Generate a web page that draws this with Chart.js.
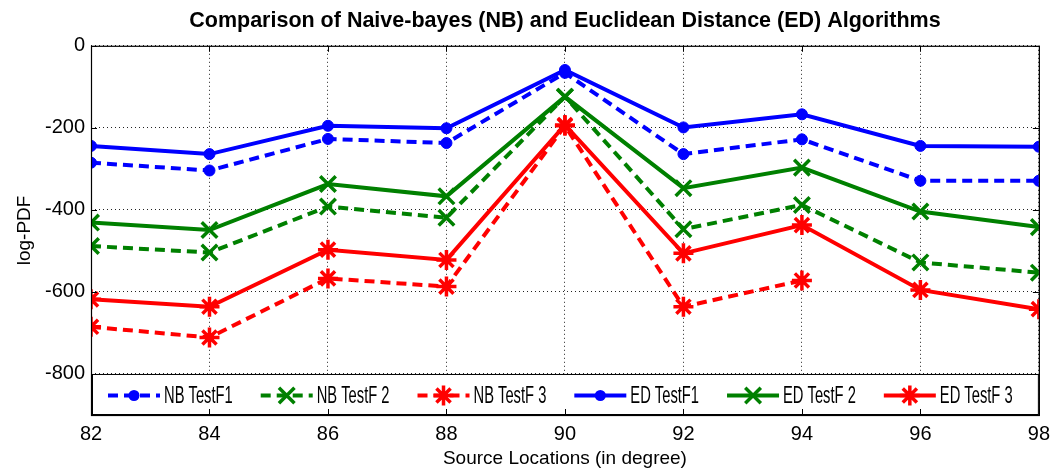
<!DOCTYPE html>
<html>
<head>
<meta charset="utf-8">
<script src="https://cdn.jsdelivr.net/npm/chart.js@4"></script>
<style>
  html, body { margin: 0; padding: 0; background: #fff; }
  #wrap { width: 1057px; height: 470px; }
</style>
</head>
<body>
<div id="wrap"><canvas id="chart" width="1057" height="470"></canvas></div>
<script>
// Source locations (degrees) and log-PDF values per algorithm / test feature set
const locations = [82, 84, 86, 88, 90, 92, 94, 96, 98];
const nbTestF1 = [-285, -304, -227, -237, -66, -264, -228, -329, -329];
const nbTestF2 = [-488, -504, -392, -419, -124, -447, -388, -528, -553];
const nbTestF3 = [-685, -711, -567, -587, -195, -636, -572, null, null];
const edTestF1 = [-244, -264, -195, -201, -59, -199, -167, -244, -246];
const edTestF2 = [-431, -449, -337, -367, -124, -347, -297, -404, -442];
const edTestF3 = [-618, -636, -497, -522, -193, -506, -437, -595, -642];
const yTicks = [0, -200, -400, -600, -800];
const xTicks = [82, 84, 86, 88, 90, 92, 94, 96, 98];

const BLUE = '#0000ff', GREEN = '#008000', RED = '#ff0000';

function series(label, values, color, dashed, marker) {
  const radius = marker === 'circle' ? 5.5 : (marker === 'crossRot' ? 11 : 10);
  return {
    label,
    data: locations.map((x, i) => ({ x, y: values[i] })),
    borderColor: color,
    backgroundColor: color,
    borderWidth: 4,
    borderDash: dashed ? [10, 6] : [],
    pointStyle: marker,
    pointRadius: radius,
    pointHoverRadius: radius,
    pointBorderWidth: marker === 'circle' ? 1 : 3.5,
    pointBorderColor: color,
    pointBackgroundColor: color,
    fill: false,
    tension: 0,
    spanGaps: false
  };
}

// Draws one marker shape (used for the legend samples)
function drawMarker(ctx, style, x, y, r, color) {
  ctx.save();
  ctx.setLineDash([]);
  ctx.strokeStyle = color;
  ctx.fillStyle = color;
  ctx.lineWidth = 3.5;
  ctx.beginPath();
  if (style === 'circle') {
    ctx.arc(x, y, r, 0, Math.PI * 2);
    ctx.fill();
  } else {
    const o = r * Math.SQRT1_2;
    ctx.moveTo(x - o, y - o); ctx.lineTo(x + o, y + o);
    ctx.moveTo(x - o, y + o); ctx.lineTo(x + o, y - o);
    if (style === 'star') {
      ctx.moveTo(x, y - r); ctx.lineTo(x, y + r);
      ctx.moveTo(x - r, y); ctx.lineTo(x + r, y);
    }
    ctx.stroke();
  }
  ctx.restore();
}

// Box frame with inward tick marks, plus the legend panel at the bottom of the plot
const framePlugin = {
  id: 'frameAndLegend',
  afterDatasetsDraw(chart) {
    const { ctx, chartArea: a, scales } = chart;
    const xs = scales.x, ys = scales.y;
    ctx.save();

    // legend panel
    const top = ys.getPixelForValue(-800);
    ctx.fillStyle = '#fff';
    ctx.fillRect(a.left, top, a.right - a.left, a.bottom - top);
    ctx.strokeStyle = '#000';
    ctx.lineWidth = 1;
    ctx.setLineDash([]);
    ctx.strokeRect(a.left + 1.5, top + 0.5, a.right - a.left - 2, a.bottom - top - 1);

    const cy = (top + a.bottom) / 2 + 1;
    let x = a.left + 17;
    ctx.font = '23px "Liberation Sans", Arial, sans-serif';
    ctx.textBaseline = 'middle';
    const sx = 0.64;
    chart.data.datasets.forEach(ds => {
      const len = 52;
      ctx.save();
      ctx.strokeStyle = ds.borderColor;
      ctx.lineWidth = 4;
      ctx.setLineDash(ds.borderDash.length ? [10, 6] : []);
      ctx.beginPath();
      ctx.moveTo(x, cy); ctx.lineTo(x + len, cy);
      ctx.stroke();
      ctx.restore();
      drawMarker(ctx, ds.pointStyle, x + len / 2, cy, ds.pointRadius, ds.borderColor);
      const tx = x + len + 4;
      const w = ctx.measureText(ds.label).width * sx;
      ctx.save();
      ctx.translate(tx, cy);
      ctx.scale(sx, 1);
      ctx.fillStyle = '#000';
      ctx.fillText(ds.label, 0, 1);
      ctx.restore();
      x = tx + w + 28;
    });

    // outer frame
    ctx.strokeStyle = '#000';
    ctx.lineWidth = 1.2;
    ctx.strokeRect(a.left + 0.5, a.top + 0.5, a.right - a.left, a.bottom - a.top);

    // inward ticks
    const tl = 6;
    ctx.lineWidth = 1;
    ctx.beginPath();
    xTicks.forEach(v => {
      const px = Math.round(xs.getPixelForValue(v)) + 0.5;
      ctx.moveTo(px, a.top); ctx.lineTo(px, a.top + tl);
      ctx.moveTo(px, a.bottom); ctx.lineTo(px, a.bottom - tl);
    });
    yTicks.forEach(v => {
      const py = Math.round(ys.getPixelForValue(v)) + 0.5;
      ctx.moveTo(a.left, py); ctx.lineTo(a.left + tl, py);
      ctx.moveTo(a.right, py); ctx.lineTo(a.right - tl, py);
    });
    ctx.stroke();
    ctx.restore();
  }
};

const gridCommon = {
  color: '#222',
  lineWidth: 1,
  drawTicks: false
};

new Chart(document.getElementById('chart'), {
  type: 'line',
  data: {
    datasets: [
      series('NB TestF1', nbTestF1, BLUE, true, 'circle'),
      series('NB TestF 2', nbTestF2, GREEN, true, 'crossRot'),
      series('NB TestF 3', nbTestF3, RED, true, 'star'),
      series('ED TestF1', edTestF1, BLUE, false, 'circle'),
      series('ED TestF 2', edTestF2, GREEN, false, 'crossRot'),
      series('ED TestF 3', edTestF3, RED, false, 'star')
    ]
  },
  options: {
    responsive: false,
    animation: false,
    events: [],
    layout: { padding: { left: 0, right: 14, top: 0, bottom: 0 } },
    plugins: {
      legend: { display: false },
      tooltip: { enabled: false },
      title: {
        display: true,
        fullSize: false,
        text: 'Comparison of Naive-bayes (NB) and Euclidean Distance (ED) Algorithms',
        color: '#000',
        font: { family: '"Liberation Sans", Arial, sans-serif', size: 21.5, weight: 'bold', lineHeight: 1.2 },
        padding: { top: 8, bottom: 12 }
      }
    },
    scales: {
      x: {
        type: 'linear',
        min: 82,
        max: 98,
        afterBuildTicks(scale) { scale.ticks = xTicks.map(v => ({ value: v })); },
        afterFit(scale) { scale.height = 55; },
        ticks: {
          color: '#000',
          font: { family: '"Liberation Sans", Arial, sans-serif', size: 20 },
          padding: 7,
          maxRotation: 0,
          autoSkip: false
        },
        grid: gridCommon,
        border: { display: false, dash: [1, 3] },
        title: {
          display: true,
          text: 'Source Locations (in degree)',
          color: '#000',
          font: { family: '"Liberation Sans", Arial, sans-serif', size: 19 },
          padding: { top: 0, bottom: 0 }
        }
      },
      y: {
        type: 'linear',
        min: -900,
        max: 0,
        afterBuildTicks(scale) { scale.ticks = yTicks.slice().reverse().map(v => ({ value: v })); },
        afterFit(scale) { scale.width = 91; },
        ticks: {
          color: '#000',
          font: { family: '"Liberation Sans", Arial, sans-serif', size: 20 },
          padding: 6
        },
        grid: gridCommon,
        border: { display: false, dash: [1, 3] },
        title: {
          display: true,
          text: 'log-PDF',
          color: '#000',
          font: { family: '"Liberation Sans", Arial, sans-serif', size: 19 },
          padding: { top: 13, bottom: 0 }
        }
      }
    }
  },
  plugins: [framePlugin]
});
</script>
</body>
</html>
